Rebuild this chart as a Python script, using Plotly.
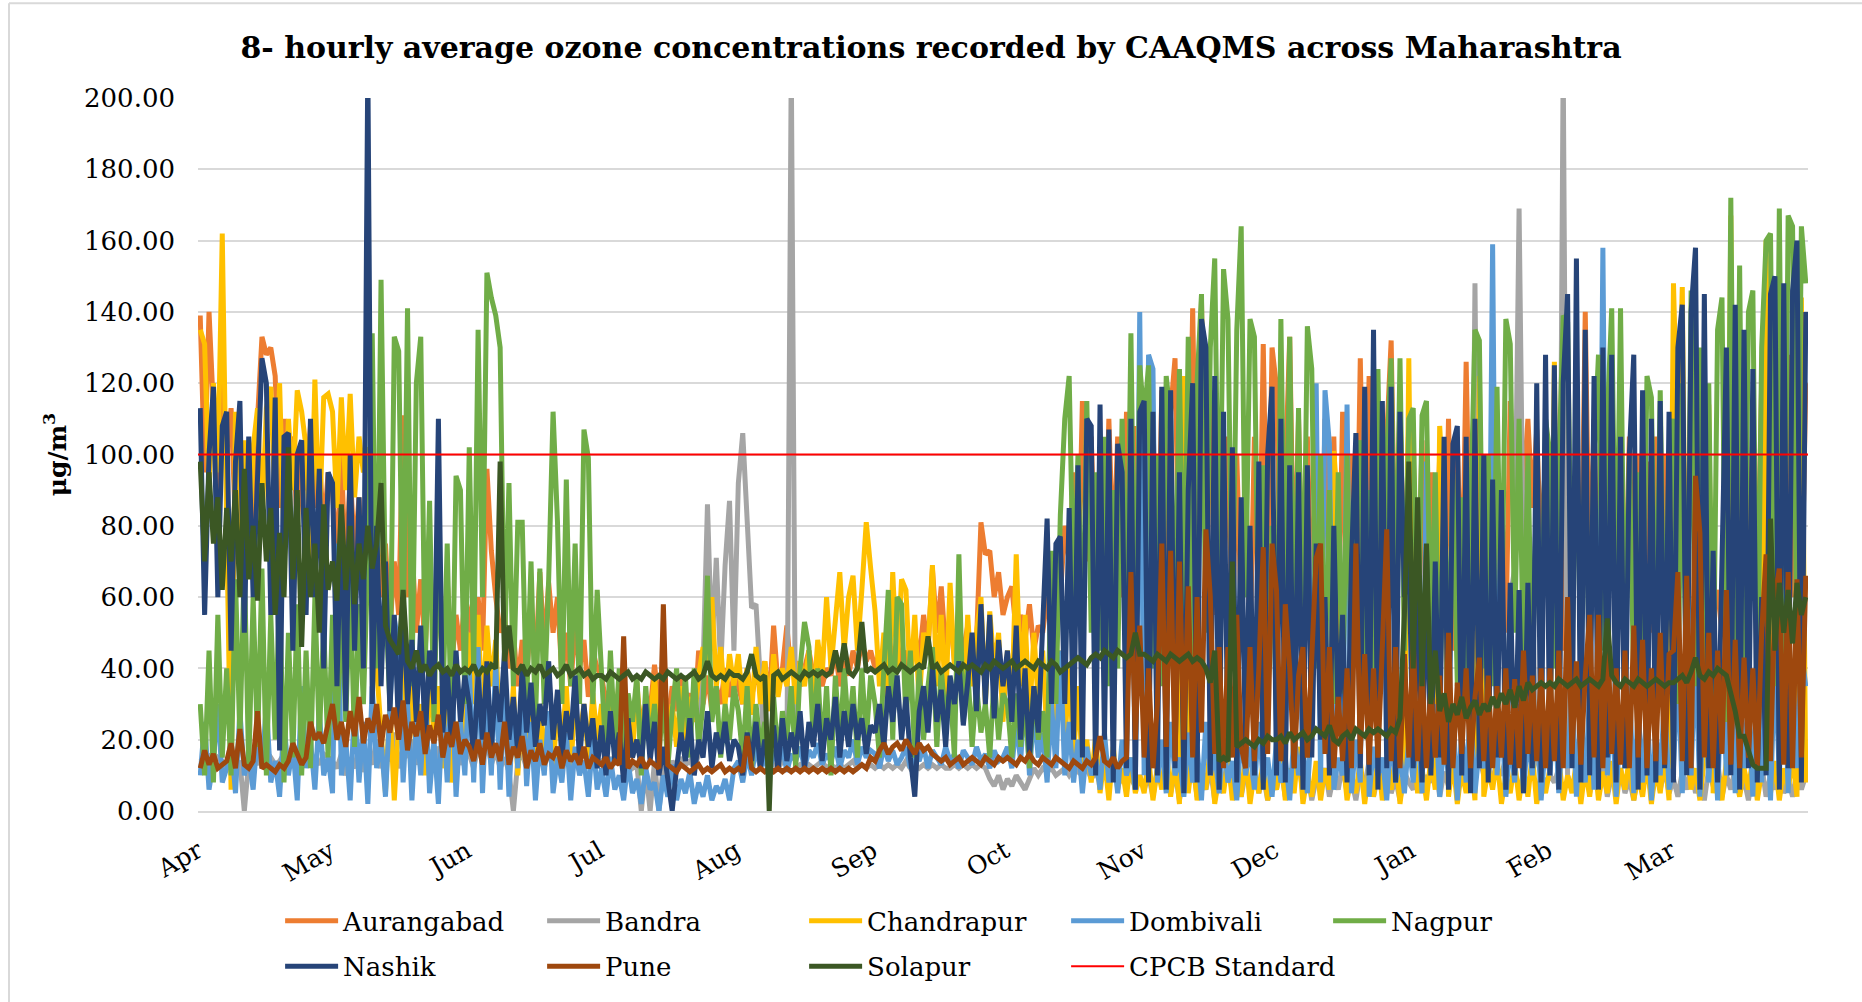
import pandas as pd
import plotly.graph_objects as go

# ---------------- data (daily-sampled 8-hourly averages, µg/m3), one list per month ----------------
MONTHS = ["Apr", "May", "Jun", "Jul", "Aug", "Sep", "Oct", "Nov", "Dec", "Jan", "Feb", "Mar"]
MONTH_STARTS = pd.date_range("2020-04-01", periods=12, freq="MS")
PERIOD_END = pd.Timestamp("2021-04-01")

AURANGABAD = [
    [139, 95, 140, 110, 85, 120, 100, 113, 80, 105, 90, 100, 75, 110, 133, 128, 130, 122, 85, 110, 95, 105, 80, 100, 90, 108, 85, 100, 78, 95],
    [90, 70, 100, 65, 95, 72, 88, 60, 85, 55, 80, 60, 75, 50, 70, 55, 111, 60, 75, 50, 65, 45, 70, 48, 60, 42, 65, 40, 55, 45, 60],
    [55, 40, 60, 45, 96, 73, 60, 50, 55, 40, 50, 35, 48, 38, 55, 40, 67, 45, 64, 50, 60, 38, 50, 35, 52, 40, 48, 32, 45, 40],
    [38, 30, 35, 25, 32, 28, 30, 22, 33, 25, 30, 28, 41, 30, 38, 25, 35, 28, 38, 30, 33, 25, 45, 30, 38, 28, 35, 30, 40, 32, 38],
    [35, 30, 40, 32, 38, 35, 42, 30, 52, 35, 40, 52, 38, 42, 35, 40, 45, 38, 42, 35, 40, 38, 45, 35, 42, 38, 45, 40, 48, 42, 45],
    [40, 45, 38, 50, 42, 48, 40, 45, 38, 50, 42, 55, 45, 68, 50, 63, 45, 55, 42, 50, 45, 52, 40, 48, 81, 72, 73, 60, 67, 55],
    [60, 63, 50, 55, 48, 58, 45, 52, 50, 60, 55, 65, 60, 80, 70, 95, 60, 115, 70, 105, 65, 100, 60, 110, 70, 105, 60, 112, 65, 108, 70],
    [115, 60, 110, 55, 118, 65, 112, 127, 60, 115, 70, 141, 65, 143, 70, 118, 55, 110, 60, 105, 50, 100, 55, 95, 45, 105, 50, 131, 60, 130],
    [119, 55, 100, 133, 60, 110, 50, 105, 55, 100, 45, 110, 60, 105, 50, 112, 55, 100, 50, 127, 60, 122, 55, 110, 50, 105, 132, 60, 115, 55, 110],
    [100, 50, 104, 45, 95, 55, 100, 50, 110, 45, 105, 55, 126, 60, 100, 50, 95, 45, 100, 55, 90, 50, 115, 80, 112, 90, 110, 85, 107, 70, 100],
    [95, 50, 100, 45, 110, 60, 105, 55, 140, 60, 110, 50, 105, 55, 100, 45, 95, 50, 105, 55, 100, 45, 98, 50, 105, 55, 100, 50],
    [110, 60, 115, 55, 126, 65, 120, 50, 60, 55, 62, 50, 120, 65, 125, 60, 118, 55, 110, 60, 120, 65, 125, 60, 130, 65, 128, 60, 125, 55, 120],
]

BANDRA = [
    [15, 14, 16, 13, 15, 14, 12, 15, 13, 14, 0, 14, 15, 13, 16, 14, 15, 13, 14, 16, 15, 13, 14, 15, 16, 14, 15, 13, 16, 15],
    [14, 12, 16, 10, 15, 12, 18, 11, 16, 13, 20, 12, 17, 14, 22, 12, 18, 15, 20, 13, 19, 15, 17, 12, 18, 14, 20, 15, 18, 13, 17],
    [16, 12, 18, 14, 20, 13, 17, 12, 15, 11, 0, 14, 16, 12, 18, 13, 15, 12, 17, 14, 16, 12, 18, 13, 15, 11, 14, 12, 16, 13],
    [14, 12, 15, 13, 16, 11, 14, 12, 13, 0, 12, 0, 14, 0, 13, 11, 14, 12, 15, 13, 14, 12, 16, 40, 86, 45, 71, 40, 69, 87, 45],
    [92, 106, 78, 57, 58, 35, 15, 14, 13, 12, 14, 13, 210, 12, 13, 12, 13, 12, 13, 14, 12, 13, 12, 13, 12, 13, 14, 12, 13, 12, 13],
    [12, 13, 12, 13, 12, 13, 12, 14, 12, 13, 12, 13, 12, 13, 12, 13, 12, 12, 13, 12, 13, 12, 13, 12, 13, 12, 9, 7, 10, 6],
    [9, 7, 10, 8, 6, 9, 12, 10, 12, 11, 12, 10, 11, 12, 10, 12, 11, 10, 12, 9, 11, 8, 10, 12, 9, 11, 8, 10, 9, 7, 10],
    [6, 10, 4, 12, 8, 14, 5, 11, 3, 10, 7, 13, 4, 9, 6, 12, 3, 10, 8, 14, 5, 9, 4, 11, 7, 13, 5, 10, 3, 9],
    [6, 12, 4, 10, 8, 14, 5, 11, 3, 9, 7, 12, 4, 10, 6, 13, 5, 9, 3, 11, 7, 14, 4, 10, 6, 12, 5, 9, 3, 11, 8],
    [6, 12, 5, 10, 8, 14, 4, 11, 7, 13, 5, 10, 6, 12, 148, 15, 10, 14, 8, 12, 10, 15, 60, 68, 169, 65, 62, 58, 15, 10, 8],
    [10, 8, 12, 210, 10, 6, 12, 8, 14, 5, 11, 7, 13, 4, 10, 6, 12, 5, 9, 3, 11, 7, 13, 4, 10, 6, 12, 5],
    [9, 4, 11, 6, 13, 5, 10, 3, 12, 7, 14, 4, 10, 6, 12, 5, 9, 3, 11, 7, 13, 4, 10, 6, 12, 5, 9, 4, 11, 6, 10],
]

CHANDRAPUR = [
    [135, 131, 90, 120, 95, 162, 80, 6, 112, 75, 104, 70, 102, 113, 80, 113, 119, 85, 120, 75, 110, 90, 118, 112, 102, 70, 121, 80, 116, 117],
    [112, 85, 116, 90, 117, 88, 105, 95, 102, 60, 40, 20, 5, 30, 3, 25, 45, 20, 35, 15, 30, 10, 40, 20, 35, 12, 30, 8, 25, 15, 30],
    [50, 30, 55, 25, 52, 35, 48, 20, 40, 15, 35, 10, 30, 20, 35, 8, 30, 15, 28, 10, 32, 18, 35, 12, 31, 20, 30, 15, 33, 20],
    [30, 20, 35, 18, 38, 22, 32, 15, 36, 20, 30, 25, 38, 20, 34, 22, 30, 18, 35, 20, 32, 25, 38, 46, 40, 60, 35, 46, 30, 44, 35],
    [44, 30, 40, 27, 46, 30, 42, 28, 44, 32, 40, 35, 46, 30, 42, 35, 45, 30, 48, 38, 60, 40, 55, 67, 45, 60, 66, 45, 62, 81, 68],
    [56, 35, 50, 30, 67, 40, 65, 62, 35, 55, 30, 50, 45, 69, 35, 55, 30, 64, 40, 50, 28, 55, 35, 50, 60, 30, 56, 40, 50, 25],
    [45, 30, 72, 35, 55, 25, 50, 30, 45, 20, 50, 25, 45, 18, 40, 15, 35, 12, 20, 8, 21, 5, 15, 3, 18, 6, 12, 4, 15, 5, 10],
    [5, 15, 3, 12, 6, 18, 4, 14, 2, 122, 5, 16, 3, 12, 6, 18, 2, 10, 5, 15, 3, 12, 4, 16, 2, 11, 5, 14, 3, 10],
    [6, 15, 3, 12, 5, 18, 2, 10, 4, 14, 3, 12, 6, 101, 83, 16, 3, 10, 5, 14, 2, 12, 4, 15, 3, 11, 6, 16, 2, 12, 127],
    [20, 5, 12, 3, 15, 6, 108, 84, 4, 14, 2, 12, 5, 16, 3, 122, 4, 12, 6, 15, 2, 10, 5, 14, 3, 12, 4, 16, 2, 11, 5],
    [12, 126, 15, 3, 10, 5, 14, 2, 12, 4, 16, 3, 11, 5, 14, 2, 12, 6, 15, 3, 10, 4, 14, 2, 12, 5, 16, 3],
    [148, 100, 147, 20, 6, 12, 3, 15, 114, 5, 12, 3, 14, 167, 10, 4, 12, 6, 15, 3, 11, 160, 5, 14, 3, 12, 6, 15, 4, 144, 8],
]

DOMBIVALI = [
    [10, 25, 6, 14, 30, 8, 12, 20, 5, 28, 10, 15, 6, 22, 12, 30, 8, 14, 4, 25, 10, 18, 3, 35, 12, 20, 6, 28, 10, 15],
    [5, 75, 10, 20, 3, 30, 8, 25, 2, 35, 12, 20, 4, 28, 54, 46, 8, 30, 3, 25, 10, 35, 5, 20, 2, 30, 8, 40, 4, 25, 10],
    [40, 8, 46, 5, 33, 10, 42, 6, 35, 4, 30, 12, 38, 7, 25, 3, 20, 10, 28, 5, 15, 8, 22, 3, 18, 10, 14, 4, 20, 6],
    [12, 4, 15, 6, 10, 3, 14, 5, 9, 2, 12, 6, 8, 0, 10, 4, 13, 3, 9, 5, 11, 2, 8, 4, 10, 3, 7, 5, 9, 3, 12],
    [14, 8, 16, 10, 18, 12, 15, 10, 17, 13, 18, 11, 16, 14, 18, 12, 17, 15, 19, 13, 16, 14, 18, 12, 17, 15, 20, 13, 18, 15, 17],
    [16, 12, 18, 14, 17, 13, 15, 18, 12, 16, 14, 18, 12, 17, 15, 13, 18, 14, 16, 12, 17, 15, 13, 18, 14, 16, 12, 17, 14, 15],
    [18, 12, 25, 14, 33, 10, 28, 15, 22, 8, 30, 12, 45, 10, 25, 8, 20, 5, 18, 10, 15, 6, 22, 8, 17, 5, 20, 10, 15, 6, 140],
    [10, 128, 124, 8, 20, 5, 25, 10, 15, 4, 22, 8, 18, 3, 25, 10, 16, 5, 20, 8, 14, 3, 22, 10, 18, 6, 25, 8, 15, 4],
    [20, 8, 15, 3, 22, 10, 18, 5, 25, 120, 8, 118, 103, 6, 15, 10, 114, 5, 20, 8, 117, 4, 18, 10, 15, 3, 22, 8, 16, 5, 20],
    [8, 25, 5, 98, 12, 30, 4, 20, 10, 28, 3, 22, 8, 30, 5, 18, 12, 25, 159, 10, 28, 4, 20, 8, 30, 5, 22, 10, 28, 3, 20],
    [10, 30, 5, 25, 12, 35, 4, 28, 8, 32, 6, 22, 158, 10, 30, 4, 25, 12, 35, 5, 28, 8, 30, 3, 22, 10, 32, 6],
    [12, 40, 5, 35, 10, 45, 4, 38, 8, 30, 3, 42, 10, 35, 5, 40, 12, 30, 4, 45, 8, 38, 3, 42, 10, 50, 5, 40, 12, 45, 35],
]

NAGPUR = [
    [30, 10, 45, 8, 55, 15, 40, 10, 65, 20, 70, 12, 60, 18, 68, 10, 55, 20, 62, 8, 50, 15, 58, 10, 45, 12, 60, 20, 52, 15],
    [55, 20, 60, 25, 65, 18, 58, 30, 70, 134, 40, 149, 60, 30, 133, 129, 45, 141, 35, 120, 133, 40, 87, 25, 80, 30, 75, 20, 94, 90, 30],
    [102, 40, 135, 60, 151, 144, 139, 130, 45, 92, 35, 81, 81, 30, 70, 25, 68, 30, 65, 112, 81, 30, 93, 35, 75, 30, 107, 99, 30, 62],
    [40, 15, 45, 20, 40, 12, 33, 25, 38, 10, 35, 18, 30, 15, 33, 12, 28, 40, 20, 38, 15, 40, 18, 30, 66, 25, 35, 15, 30, 20, 35],
    [28, 15, 35, 12, 30, 18, 25, 10, 32, 15, 28, 20, 35, 12, 40, 53, 46, 20, 40, 15, 35, 10, 38, 18, 40, 22, 35, 15, 40, 20, 38],
    [30, 15, 40, 62, 20, 60, 58, 25, 45, 15, 40, 20, 35, 46, 18, 40, 25, 35, 15, 72, 25, 40, 18, 35, 22, 30, 15, 38, 20, 33],
    [30, 15, 33, 18, 30, 12, 35, 20, 28, 15, 73, 30, 83, 110, 122, 60, 100, 40, 115, 50, 95, 45, 105, 35, 90, 40, 110, 45, 134, 40, 125],
    [110, 125, 40, 100, 35, 122, 110, 45, 124, 50, 133, 40, 120, 145, 50, 130, 155, 60, 152, 138, 50, 135, 164, 60, 138, 133, 40, 97, 33, 80],
    [25, 138, 50, 133, 40, 113, 45, 136, 124, 40, 100, 35, 90, 30, 95, 33, 100, 40, 85, 104, 35, 90, 40, 124, 45, 100, 127, 50, 127, 45, 110],
    [113, 40, 111, 115, 45, 95, 30, 90, 40, 95, 35, 88, 30, 90, 135, 132, 40, 100, 35, 119, 45, 138, 131, 50, 110, 40, 100, 35, 95, 40, 110],
    [100, 40, 95, 139, 137, 45, 110, 40, 105, 35, 100, 128, 45, 110, 141, 50, 141, 40, 100, 35, 95, 45, 122, 116, 40, 118, 35, 100],
    [110, 30, 120, 25, 146, 35, 130, 20, 120, 30, 135, 144, 25, 172, 40, 153, 30, 140, 146, 25, 130, 160, 162, 35, 169, 30, 167, 164, 40, 164, 148],
]

NASHIK = [
    [113, 55, 100, 119, 60, 108, 112, 45, 98, 115, 50, 105, 60, 95, 127, 120, 55, 116, 17, 105, 106, 45, 100, 104, 55, 110, 60, 96, 40, 95],
    [92, 35, 85, 28, 100, 45, 88, 40, 210, 30, 80, 35, 70, 28, 55, 22, 60, 30, 48, 25, 52, 20, 45, 30, 110, 22, 40, 18, 45, 25, 38],
    [30, 15, 38, 20, 42, 18, 35, 25, 45, 20, 32, 16, 40, 22, 36, 18, 30, 24, 42, 20, 34, 15, 28, 20, 38, 14, 30, 18, 26, 12],
    [24, 10, 28, 14, 22, 8, 26, 15, 20, 12, 30, 14, 25, 10, 18, 8, 0, 12, 22, 14, 26, 10, 20, 15, 28, 12, 22, 16, 25, 14, 20],
    [18, 10, 22, 14, 25, 12, 20, 15, 24, 11, 26, 14, 22, 16, 28, 12, 25, 18, 30, 14, 26, 20, 32, 15, 28, 18, 30, 20, 26, 16, 24],
    [22, 30, 18, 35, 25, 38, 20, 32, 15, 4, 28, 35, 22, 40, 25, 34, 18, 38, 30, 42, 24, 36, 50, 28, 58, 30, 55, 26, 48, 35],
    [45, 25, 52, 20, 40, 15, 35, 22, 50, 82, 30, 75, 77, 30, 85, 20, 97, 15, 110, 108, 10, 114, 20, 107, 8, 103, 95, 12, 110, 6, 112],
    [115, 8, 112, 10, 119, 6, 118, 12, 95, 5, 90, 120, 8, 138, 130, 10, 122, 6, 112, 14, 102, 8, 88, 15, 80, 10, 98, 6, 100, 119],
    [10, 110, 8, 97, 12, 95, 6, 97, 15, 75, 20, 60, 10, 80, 25, 55, 8, 70, 106, 12, 119, 10, 135, 6, 115, 12, 119, 8, 112, 60, 74],
    [12, 65, 8, 74, 10, 70, 15, 105, 6, 103, 108, 10, 105, 5, 110, 12, 100, 8, 93, 15, 90, 6, 64, 10, 62, 5, 64, 12, 120, 8, 128],
    [10, 125, 6, 120, 145, 12, 155, 8, 135, 10, 122, 6, 130, 15, 128, 8, 105, 12, 100, 128, 6, 118, 10, 110, 8, 115, 12, 112],
    [8, 130, 142, 10, 140, 158, 6, 145, 12, 73, 8, 70, 130, 10, 142, 6, 135, 12, 124, 8, 60, 10, 145, 150, 6, 148, 12, 146, 160, 8, 140],
]

PUNE = [
    [12, 17, 13, 16, 12, 13, 14, 19, 12, 23, 13, 12, 14, 28, 12, 13, 12, 11, 13, 12, 14, 19, 16, 13, 15, 25, 20, 22, 19, 24],
    [30, 20, 25, 18, 28, 21, 32, 19, 26, 22, 30, 18, 27, 22, 29, 20, 31, 17, 25, 21, 28, 16, 24, 19, 27, 15, 22, 18, 25, 16, 20],
    [18, 14, 20, 13, 22, 15, 19, 14, 25, 13, 18, 15, 21, 12, 17, 14, 19, 13, 16, 15, 18, 12, 17, 14, 16, 13, 18, 12, 15, 14],
    [13, 15, 12, 14, 13, 49, 12, 14, 13, 15, 12, 14, 13, 12, 58, 13, 12, 11, 13, 12, 11, 12, 13, 11, 12, 11, 12, 13, 11, 12, 11],
    [12, 11, 21, 12, 11, 12, 11, 12, 11, 12, 11, 12, 11, 12, 11, 12, 11, 12, 11, 12, 11, 12, 11, 12, 11, 12, 11, 12, 13, 12, 15],
    [14, 17, 19, 16, 18, 19, 17, 20, 18, 16, 19, 17, 18, 16, 15, 14, 15, 13, 14, 15, 13, 14, 15, 14, 13, 15, 14, 13, 15, 14],
    [15, 14, 13, 15, 14, 16, 14, 13, 15, 14, 13, 15, 14, 13, 12, 14, 13, 12, 14, 13, 15, 21, 14, 13, 15, 12, 14, 15, 67, 20, 52],
    [15, 40, 12, 30, 75, 18, 73, 14, 70, 20, 63, 15, 60, 22, 79, 60, 16, 46, 12, 46, 15, 55, 18, 12, 46, 14, 40, 74, 16, 75],
    [62, 14, 58, 40, 12, 38, 46, 15, 44, 71, 75, 16, 46, 12, 32, 14, 40, 12, 75, 16, 44, 13, 40, 15, 46, 79, 14, 46, 12, 44, 15],
    [48, 14, 40, 12, 35, 15, 38, 13, 50, 12, 36, 16, 40, 12, 32, 43, 14, 38, 12, 35, 15, 40, 13, 37, 12, 45, 16, 38, 14, 40, 12],
    [40, 14, 45, 12, 60, 16, 42, 13, 38, 55, 15, 55, 12, 53, 16, 40, 13, 45, 12, 52, 15, 48, 12, 40, 14, 50, 13, 44],
    [45, 67, 14, 66, 12, 94, 78, 15, 50, 12, 45, 16, 62, 13, 48, 12, 43, 15, 40, 12, 50, 72, 14, 60, 68, 13, 67, 12, 65, 15, 66],
]

SOLAPUR = [
    [98, 70, 95, 75, 88, 62, 85, 70, 90, 60, 96, 65, 80, 59, 92, 70, 85, 55, 78, 60, 102, 65, 90, 46, 85, 60, 75, 50, 86, 62],
    [70, 59, 86, 62, 80, 58, 75, 65, 80, 68, 75, 92, 52, 48, 46, 44, 62, 42, 40, 45, 39, 41, 38, 40, 41, 39, 40, 38, 41, 39, 40],
    [39, 41, 38, 40, 39, 41, 40, 98, 42, 52, 40, 39, 41, 38, 40, 39, 41, 38, 39, 40, 38, 39, 41, 38, 39, 40, 38, 39, 37, 38],
    [38, 37, 39, 38, 37, 38, 39, 37, 38, 37, 39, 38, 37, 38, 37, 39, 38, 37, 38, 37, 38, 39, 37, 38, 42, 38, 37, 38, 37, 39, 38],
    [38, 37, 39, 44, 38, 37, 38, 0, 38, 39, 37, 38, 39, 38, 37, 39, 38, 39, 38, 39, 38, 39, 45, 39, 47, 39, 38, 40, 53, 39, 40],
    [39, 40, 41, 39, 40, 39, 41, 40, 39, 40, 41, 40, 49, 40, 41, 39, 40, 41, 40, 39, 41, 40, 41, 40, 39, 41, 40, 42, 41, 40],
    [41, 42, 40, 41, 42, 41, 40, 42, 41, 40, 42, 41, 39, 40, 41, 42, 43, 42, 41, 43, 44, 43, 45, 44, 43, 45, 44, 43, 44, 50, 44],
    [44, 43, 42, 44, 43, 42, 44, 43, 42, 43, 44, 42, 43, 42, 40, 36, 45, 14, 15, 14, 70, 18, 19, 20, 19, 18, 20, 19, 21, 20],
    [20, 21, 19, 22, 20, 21, 22, 20, 21, 23, 22, 21, 24, 20, 19, 21, 22, 20, 23, 22, 21, 23, 22, 23, 22, 21, 23, 22, 26, 55, 98],
    [40, 88, 35, 75, 30, 45, 28, 33, 25, 30, 27, 32, 26, 29, 31, 27, 30, 28, 32, 29, 33, 30, 34, 29, 35, 31, 36, 34, 35, 36, 35],
    [36, 35, 37, 36, 35, 36, 37, 35, 36, 37, 36, 35, 37, 54, 38, 36, 35, 37, 36, 35, 37, 36, 35, 36, 37, 36, 35, 36],
    [36, 37, 38, 36, 39, 43, 38, 37, 39, 38, 40, 39, 38, 33, 28, 21, 21, 17, 13, 12, 12, 12, 82, 45, 64, 50, 62, 47, 64, 55, 60],
]

CPCB_STANDARD = 100  # 8-hourly ozone standard, µg/m3

SERIES = [
    ("Aurangabad", AURANGABAD, "#ED7D31"),
    ("Bandra", BANDRA, "#A5A5A5"),
    ("Chandrapur", CHANDRAPUR, "#FFC000"),
    ("Dombivali", DOMBIVALI, "#5B9BD5"),
    ("Nagpur", NAGPUR, "#70AD47"),
    ("Nashik", NASHIK, "#264478"),
    ("Pune", PUNE, "#9E480E"),
    ("Solapur", SOLAPUR, "#3B5724"),
]

FONT = "DejaVu Serif"


def to_xy(monthly):
    xs, ys = [], []
    for start, vals in zip(MONTH_STARTS, monthly):
        for i, v in enumerate(vals):
            xs.append(start + pd.Timedelta(days=i, hours=12))
            ys.append(v)
    return xs, ys


fig = go.Figure()
for idx, (name, monthly, color) in enumerate(SERIES):
    xs, ys = to_xy(monthly)
    fig.add_trace(go.Scatter(
        x=xs, y=ys, mode="lines", name=name,
        line=dict(color=color, width=5),
        legend="legend" if idx < 5 else "legend2",
    ))

fig.add_trace(go.Scatter(
    x=[MONTH_STARTS[0], PERIOD_END], y=[CPCB_STANDARD, CPCB_STANDARD],
    mode="lines", name="CPCB Standard",
    line=dict(color="#FF0000", width=2), legend="legend3",
))

LEGEND_X0 = 0.051
COLUMN_STEP = 262 / 1610  # legend column spacing as a fraction of the plot width

legend_common = dict(
    orientation="h", xanchor="left", yanchor="middle", x=LEGEND_X0,
    entrywidth=194, entrywidthmode="pixels", itemwidth=53, traceorder="normal",
    font=dict(family=FONT, size=26, color="black"),
    bgcolor="rgba(0,0,0,0)", itemclick=False,
)

fig.update_layout(
    width=1862, height=1002,
    margin=dict(l=198, r=54, t=98, b=189),
    paper_bgcolor="white", plot_bgcolor="white",
    font=dict(family=FONT, size=26, color="black"),
    title=dict(
        text="<b>8- hourly average ozone concentrations recorded by CAAQMS across Maharashtra</b>",
        x=0.5, xref="container", xanchor="center",
        y=1 - 47 / 1002, yref="container", yanchor="middle",
        font=dict(family=FONT, size=30, color="black"),
    ),
    legend=dict(legend_common, y=-0.154),
    legend2=dict(legend_common, y=-0.218),
    legend3=dict(
        orientation="h", xanchor="left", yanchor="middle",
        x=LEGEND_X0 + 3 * COLUMN_STEP, y=-0.218, itemwidth=53,
        font=dict(family=FONT, size=26, color="black"),
        bgcolor="rgba(0,0,0,0)", itemclick=False,
    ),
    xaxis=dict(
        type="date", range=[MONTH_STARTS[0], PERIOD_END],
        tickmode="array", tickvals=list(MONTH_STARTS), ticktext=MONTHS,
        tickangle=-30, showgrid=False, zeroline=False,
        showline=True, linecolor="#D9D9D9", linewidth=1.5,
        ticks="", ticklabelstandoff=14,
        tickfont=dict(family=FONT, size=25, color="black"),
    ),
    yaxis=dict(
        range=[0, 200], tick0=0, dtick=20, tickformat=".2f",
        showgrid=True, gridcolor="#D9D9D9", gridwidth=1.5,
        zeroline=False, showline=False, ticks="", ticklabelstandoff=22,
        tickfont=dict(family=FONT, size=26, color="black"),
        title=dict(text="<b>μg/m<sup>3</sup></b>", standoff=10,
                   font=dict(family=FONT, size=25, color="black")),
    ),
    shapes=[
        dict(type="line", xref="paper", yref="paper", x0=-0.1174, x1=1.2, y0=1.1329, y1=1.1329,
             line=dict(color="#D9D9D9", width=2)),
        dict(type="line", xref="paper", yref="paper", x0=-0.1174, x1=-0.1174, y0=-0.3, y1=1.1329,
             line=dict(color="#D9D9D9", width=2)),
    ],
    showlegend=True,
)

fig.write_html(
    "out.html",
    config={"displayModeBar": False},
    post_script="document.body.style.margin='0';document.body.style.overflow='hidden';",
)
